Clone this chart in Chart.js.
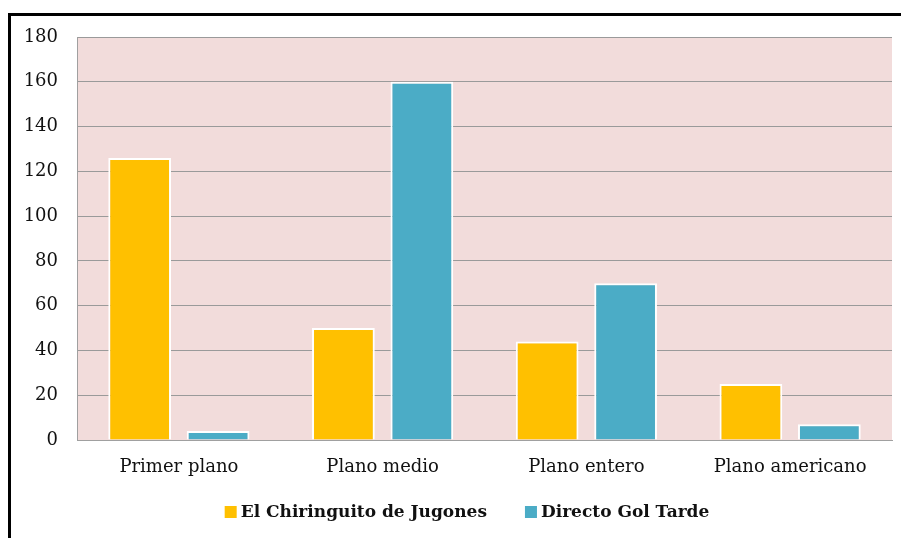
<!DOCTYPE html>
<html>
<head>
<meta charset="utf-8">
<script src="https://cdn.jsdelivr.net/npm/chart.js@4.4.0/dist/chart.umd.min.js"></script>
<style>
  html, body { margin: 0; padding: 0; background: #fff; overflow: hidden; }
  #wrap { position: relative; width: 901px; height: 538px; }
  #frame { position: absolute; left: 8px; top: 13px; width: 1000px; height: 1000px; border: 3px solid #000; box-sizing: border-box; }
  canvas { position: absolute; left: 0; top: 0; }
</style>
</head>
<body>
<div id="wrap">
  <div id="frame"></div>
  <canvas id="chart" width="901" height="538"></canvas>
</div>
<script>
// ===== DATA =====
const categories = ["Primer plano", "Plano medio", "Plano entero", "Plano americano"];
const seriesNames = ["El Chiringuito de Jugones", "Directo Gol Tarde"];
const chiringuito = [126, 50, 44, 25];
const golTarde = [4, 160, 70, 7];
const yTicks = [0, 20, 40, 60, 80, 100, 120, 140, 160, 180];
const colors = ["#FFC000", "#4BACC6"];

const serif = "'DejaVu Serif', serif";

// plot background
const plotBg = {
  id: "plotBg",
  beforeDraw(chart) {
    const { ctx, chartArea: a } = chart;
    ctx.save();
    ctx.fillStyle = "#F2DCDB";
    ctx.fillRect(a.left, a.top, a.right - a.left, a.bottom - a.top);
    ctx.restore();
  }
};

// legend drawn by hand so the box/text spacing matches
const bottomLegend = {
  id: "bottomLegend",
  afterDraw(chart) {
    const ctx = chart.ctx;
    const box = 12, gap = 4, itemGap = 38, cy = 512, cx = 467;
    ctx.save();
    ctx.font = "bold 17px " + serif;
    ctx.textBaseline = "middle";
    const items = chart.data.datasets.map(ds => ({ text: ds.label, color: ds.backgroundColor, w: ctx.measureText(ds.label).width }));
    let total = items.reduce((s, it) => s + box + gap + it.w, 0) + itemGap * (items.length - 1);
    let x = cx - total / 2;
    items.forEach(it => {
      ctx.fillStyle = it.color;
      ctx.fillRect(x, cy - box / 2, box, box);
      ctx.fillStyle = "#111";
      ctx.fillText(it.text, x + box + gap, cy + 1);
      x += box + gap + it.w + itemGap;
    });
    ctx.restore();
  }
};

new Chart(document.getElementById("chart"), {
  type: "bar",
  data: {
    labels: categories,
    datasets: [
      { label: seriesNames[0], data: chiringuito, backgroundColor: colors[0], borderColor: "#fff", borderWidth: 2 },
      { label: seriesNames[1], data: golTarde, backgroundColor: colors[1], borderColor: "#fff", borderWidth: 2 }
    ]
  },
  options: {
    responsive: false,
    animation: false,
    layout: { padding: { left: 0, top: 37, right: 9, bottom: 0 } },
    datasets: { bar: { categoryPercentage: 0.77, barPercentage: 0.8 } },
    scales: {
      x: {
        afterFit(axis) { axis.height = 98; },
        grid: { display: false, drawTicks: false },
        border: { display: true, color: "#A0A0A0", width: 1 },
        ticks: { color: "#111", font: { family: serif, size: 18 }, padding: 17 }
      },
      y: {
        min: 0, max: 180,
        afterFit(axis) { axis.width = 77; },
        afterBuildTicks(axis) { axis.ticks = yTicks.map(v => ({ value: v })); },
        grid: { color: "#9A9A9A", drawTicks: false },
        border: { display: true, color: "#A0A0A0", width: 1 },
        ticks: { color: "#111", font: { family: serif, size: 18 }, padding: 19 }
      }
    },
    plugins: {
      legend: { display: false },
      tooltip: { enabled: false }
    }
  },
  plugins: [plotBg, bottomLegend]
});
</script>
</body>
</html>
